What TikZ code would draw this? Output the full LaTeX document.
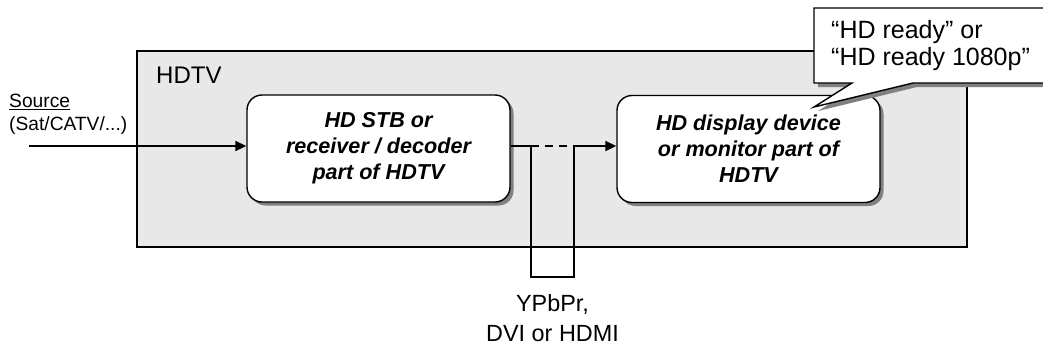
\documentclass[tikz,border=0pt]{standalone}
\usepackage{fontspec}
\setmainfont{Liberation Sans}
\usetikzlibrary{arrows.meta,shadows}
\begin{document}
\begin{tikzpicture}[x=1pt,y=-1pt,
  line/.style={line width=1.6pt},
  arr/.style={line width=1.8pt,-{Triangle[length=11pt,width=10pt]}},
  devbox/.style={draw,line width=1.4pt,fill=white,rounded corners=15pt,
    minimum width=263pt,minimum height=107pt,align=center,inner sep=0pt,
    font=\fontsize{21.6}{26}\selectfont\bfseries\itshape,
    drop shadow={shadow xshift=3.5pt,shadow yshift=-3.5pt,fill=black!50,opacity=1}},
  lbl/.style={inner sep=0pt,align=left}
]
\useasboundingbox (0,0) rectangle (1043,349);
\clip (0,0) rectangle (1043,349);
% HDTV container
\draw[line width=2pt,fill=black!9] (137,51) rectangle (967,247);
\node[lbl,anchor=west,font=\fontsize{24}{28}\selectfont] (hdtv) at (156,75) {HDTV};
% devices
\node[devbox] (stb) at (378.5,148.5) {HD STB or\\receiver / decoder\\part of HDTV};
\node[devbox] (disp) at (748.5,149) {HD display device\\or monitor part of\\HDTV};
% source
\node[lbl,anchor=north west,font=\fontsize{19.2}{23}\selectfont] (src) at (9,94) {\underline{Source}\\(Sat/CATV/...)};
\coordinate (srcin) at (29,146);
\draw[arr] (srcin) -- (stb.west |- srcin);
% interface link
\coordinate (a) at (531,146);
\coordinate (b) at (574,146);
\coordinate (a2) at (531,277);
\coordinate (b2) at (574,277);
\draw[line] (stb.east |- a) -- (a);
\draw[line,dash pattern=on 8pt off 6pt] (a) -- (b);
\draw[arr] (b) -- (disp.west |- b);
\draw[line width=1.4pt] (a) -- (a2) -- (b2) -- (b);
\node[font=\fontsize{23.4}{30}\selectfont,align=center,inner sep=0pt] (ifc) at (552.5,318) {YPbPr,\\DVI or HDMI};
% callout
\coordinate (tip) at (814,107);
\fill[black!50] (818,12) -- (1050,12) -- (1050,87) -- (917,87) -- ([shift={(4,4)}]tip) -- (856,87) -- (818,87) -- cycle;
\draw[line width=1.4pt,fill=white] (814,8) -- (1050,8) -- (1050,83) -- (913,83) -- (tip) -- (852,83) -- (814,83) -- cycle;
\node[lbl,anchor=west,font=\fontsize{25}{27}\selectfont] (call) at (831,46) {“HD ready” or\\“HD ready 1080p”};
\end{tikzpicture}
\end{document}
